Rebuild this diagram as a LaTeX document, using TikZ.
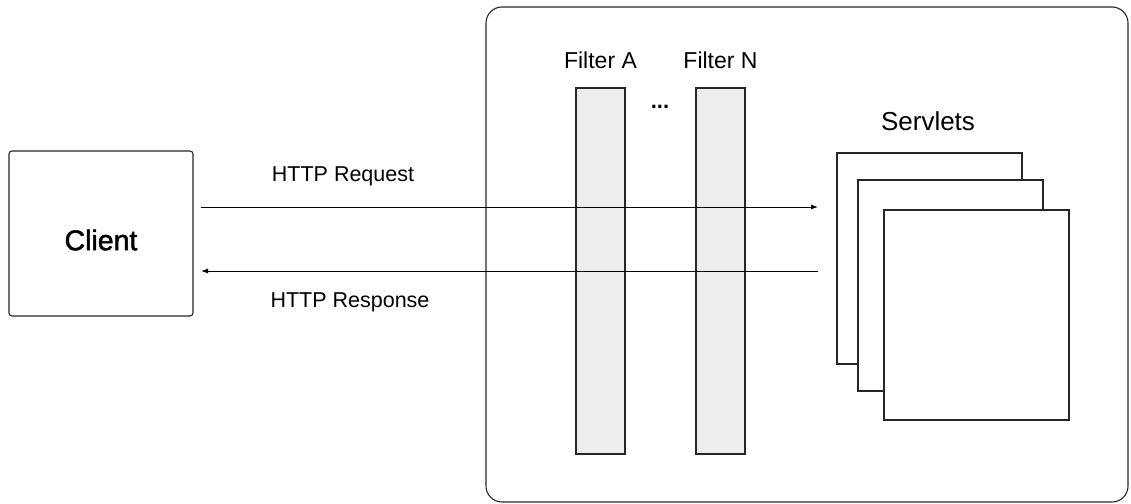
\documentclass[tikz,border=0pt]{standalone}
\usepackage{fontspec}
\setmainfont{Liberation Sans}
\newfontfamily\medfont[FakeBold=1.8]{Liberation Sans}
\usetikzlibrary{arrows.meta}
\begin{document}
\begin{tikzpicture}[x=1pt,y=-1pt,
  box/.style={draw=black!85, line width=1.1pt, inner sep=0pt, outer sep=0pt},
  filterbox/.style={box, fill=black!7, minimum width=49pt, minimum height=366pt},
  servbox/.style={box, fill=white, minimum width=185pt, minimum height=211pt},
  lbl/.style={font=\fontsize{21.5}{25}\selectfont, inner sep=0pt},
  flbl/.style={font=\fontsize{23}{27}\selectfont, inner sep=0pt},
  arr/.style={line width=0.9pt, -{Latex[length=7pt,width=5pt]}}]
\useasboundingbox (0,0) rectangle (1131,503);
\node[box, rounded corners=3pt, minimum width=184pt, minimum height=165pt] (client) at (101,233.5) {};
\node[font=\medfont\fontsize{28.5}{32}\selectfont, inner sep=0pt] (clientlbl) at (101,240) {Client};
\node[box, rounded corners=16pt, minimum width=642pt, minimum height=495pt] (container) at (807,254.5) {};
\node[filterbox] (fa) at (600.5,271) {};
\node[filterbox] (fn) at (720.5,271) {};
\node[flbl] (falbl) at (600.5,60) {Filter A};
\node[flbl] (fnlbl) at (720.5,60) {Filter N};
\node[font=\fontsize{22}{26}\selectfont\bfseries, inner sep=0pt] (dots) at (660,107) {...};
\node[servbox] (sb) at (929.5,258.5) {};
\node[servbox] (sm) at (950.5,285.5) {};
\node[servbox, minimum height=210pt] (sf) at (976.5,315) {};
\node[font=\fontsize{26}{30}\selectfont, inner sep=0pt] (servlbl) at (928,121) {Servlets};
\draw[arr, shorten <=8pt, shorten >=19pt] (client.east |- 0,207) -- (sb.west |- 0,207);
\draw[arr, shorten <=19pt, shorten >=8pt] (sb.west |- 0,271) -- (client.east |- 0,271);
\node[lbl] (req) at (343,176) {HTTP Request};
\node[lbl] (resp) at (350,302) {HTTP Response};
\end{tikzpicture}
\end{document}
